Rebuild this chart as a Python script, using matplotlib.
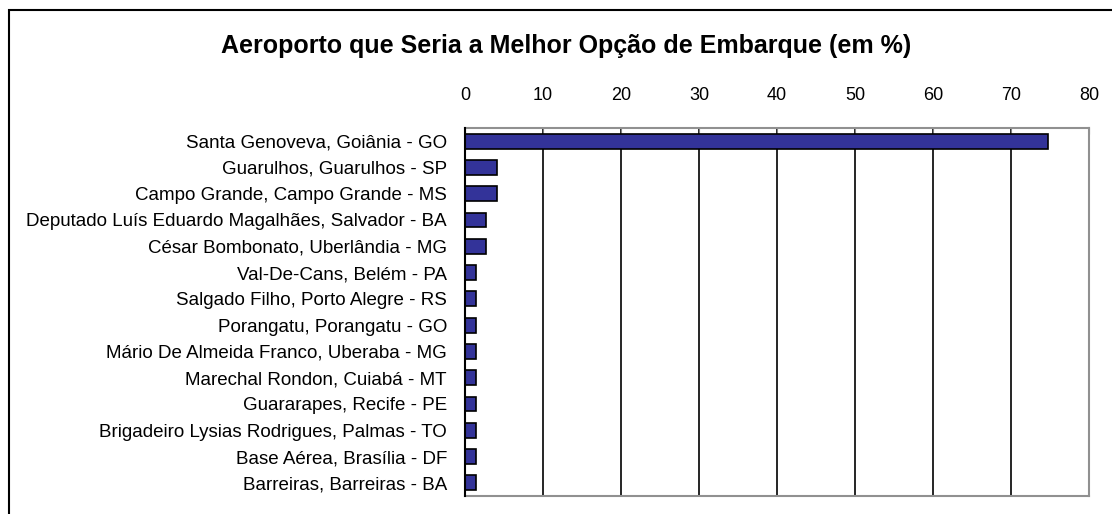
import matplotlib.pyplot as plt
from matplotlib.patches import Rectangle

plt.rcParams['font.family'] = ['Liberation Sans', 'DejaVu Sans']

aeroportos = [
    'Santa Genoveva, Goiânia - GO',
    'Guarulhos, Guarulhos - SP',
    'Campo Grande, Campo Grande - MS',
    'Deputado Luís Eduardo Magalhães, Salvador - BA',
    'César Bombonato, Uberlândia - MG',
    'Val-De-Cans, Belém - PA',
    'Salgado Filho, Porto Alegre - RS',
    'Porangatu, Porangatu - GO',
    'Mário De Almeida Franco, Uberaba - MG',
    'Marechal Rondon, Cuiabá - MT',
    'Guararapes, Recife - PE',
    'Brigadeiro Lysias Rodrigues, Palmas - TO',
    'Base Aérea, Brasília - DF',
    'Barreiras, Barreiras - BA',
]
percentual = [74.8, 4.1, 4.1, 2.7, 2.7, 1.4, 1.4, 1.4, 1.4, 1.4, 1.4, 1.4, 1.4, 1.4]
ticks = [0, 10, 20, 30, 40, 50, 60, 70, 80]

fig = plt.figure(figsize=(11.12, 5.14), dpi=100)
fig.patches.append(Rectangle((9 / 1112, -0.1), 1.2, 1 - 10 / 514 + 0.1,
                             transform=fig.transFigure, fill=False,
                             edgecolor='black', linewidth=1.5))

ax = fig.add_axes([465 / 1112, 1 - 496 / 514, 624 / 1112, 368 / 514])
y = list(range(len(aeroportos)))
ax.barh(y, percentual, height=0.57, color='#333399', edgecolor='black',
        linewidth=1.2, zorder=3)
ax.set_xlim(0, 80)
ax.set_ylim(len(aeroportos) - 0.5, -0.5)
ax.set_xticks(ticks)
ax.xaxis.tick_top()
ax.tick_params(axis='x', direction='in', length=4, pad=17, labelsize=13,
               color='gray')
ax.set_yticks(y)
ax.set_yticklabels(aeroportos)
ax.tick_params(axis='y', length=0, pad=13, labelsize=13.5)
ax.grid(axis='x', color='black', linewidth=1.2, zorder=1)
for s in ['top', 'right', 'bottom']:
    ax.spines[s].set_color('#909090')
    ax.spines[s].set_linewidth(1.5)
ax.spines['left'].set_color('black')
ax.spines['left'].set_linewidth(1.5)
ax.spines['left'].set_zorder(4)

fig.text(566 / 1112, 1 - 46 / 514, 'Aeroporto que Seria a Melhor Opção de Embarque (em %)',
         ha='center', va='center', fontsize=18, fontweight='bold')

fig.savefig('out.png', dpi=100)
